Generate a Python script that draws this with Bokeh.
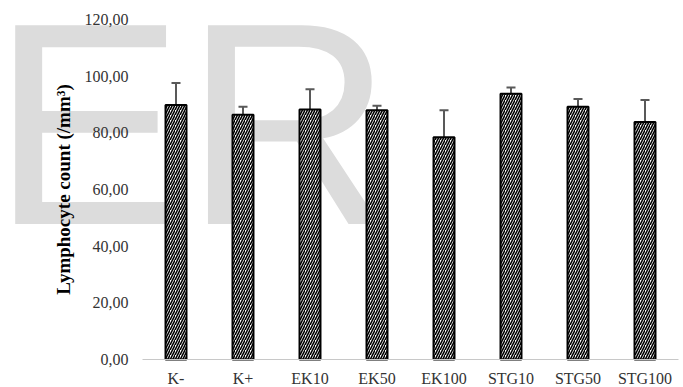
from bokeh.plotting import figure
from bokeh.models import ColumnDataSource, Whisker, TeeHead, Label, FixedTicker, Range1d
from bokeh.embed import file_html
from bokeh.resources import INLINE

categories = ["K-", "K+", "EK10", "EK50", "EK100", "STG10", "STG50", "STG100"]
values = [89.8, 86.4, 88.2, 88.0, 78.4, 93.8, 89.2, 83.8]
errors = [7.8, 2.8, 7.2, 1.6, 9.6, 2.2, 2.7, 7.8]
y_ticks = [0, 20, 40, 60, 80, 100, 120]
y_tick_labels = ["0,00", "20,00", "40,00", "60,00", "80,00", "100,00", "120,00"]
y_label = "Lymphocyte count (/mm\u00b3)"
watermark = "ER"

pos = list(range(len(categories)))
upper = [v + e for v, e in zip(values, errors)]
lower = [v - e for v, e in zip(values, errors)]
src = ColumnDataSource(dict(x=pos, val=values, upper=upper, lower=lower))

SERIF = "Liberation Serif"

# frame fills the canvas; axes are pinned with fixed_location so nothing clips the watermark
p = figure(width=683, height=387,
           x_range=Range1d(-2.6194, 7.5746), y_range=Range1d(-9.882, 126.706),
           output_backend="svg", toolbar_location=None,
           min_border=0, min_border_left=0, min_border_right=0,
           min_border_top=0, min_border_bottom=0)
p.outline_line_color = None
p.background_fill_color = "white"
p.border_fill_color = "white"
p.xgrid.grid_line_color = None
p.ygrid.grid_line_color = None

p.add_layout(Label(x=-9, y=264, x_units="screen", y_units="screen", text=watermark,
                   text_font="Liberation Sans", text_font_size="289px", text_color="#dcdcdc",
                   text_baseline="alphabetic", level="underlay"))

p.vbar(x="x", top="val", bottom=0, width=0.313, source=src,
       fill_color="white", line_color="black", line_width=2,
       hatch_pattern="/", hatch_color="black", hatch_scale=5, hatch_weight=1.6)

w = Whisker(base="x", upper="upper", lower="lower", source=src,
            line_color="#595959", line_width=2,
            upper_head=TeeHead(size=9, line_color="#595959", line_width=2),
            lower_head=None)
p.add_layout(w)

p.yaxis.fixed_location = -0.5
p.yaxis.bounds = (0, 120)
p.yaxis.ticker = FixedTicker(ticks=y_ticks)
p.yaxis.major_label_overrides = {t: l for t, l in zip(y_ticks, y_tick_labels)}
p.yaxis.axis_line_color = None
p.yaxis.major_tick_line_color = None
p.yaxis.minor_tick_line_color = None
p.yaxis.major_tick_out = 0
p.yaxis.major_tick_in = 0
p.yaxis.major_label_standoff = 14
p.yaxis.major_label_text_font = SERIF
p.yaxis.major_label_text_font_size = "16px"
p.yaxis.major_label_text_color = "#333333"
p.yaxis.axis_label = y_label
p.yaxis.axis_label_text_font = SERIF
p.yaxis.axis_label_text_font_size = "19px"
p.yaxis.axis_label_text_font_style = "bold"
p.yaxis.axis_label_text_color = "black"
p.yaxis.axis_label_standoff = 8

p.xaxis.fixed_location = 0
p.xaxis.bounds = (-0.5, len(categories) - 0.5)
p.xaxis.ticker = FixedTicker(ticks=pos)
p.xaxis.major_label_overrides = {i: c for i, c in zip(pos, categories)}
p.xaxis.axis_line_color = "#c8c8c8"
p.xaxis.axis_line_width = 1
p.xaxis.major_tick_line_color = None
p.xaxis.minor_tick_line_color = None
p.xaxis.major_tick_out = 0
p.xaxis.major_tick_in = 0
p.xaxis.major_label_standoff = 10
p.xaxis.major_label_text_font = SERIF
p.xaxis.major_label_text_font_size = "16px"
p.xaxis.major_label_text_color = "#333333"

open("out.html", "w").write(file_html(p, INLINE))
